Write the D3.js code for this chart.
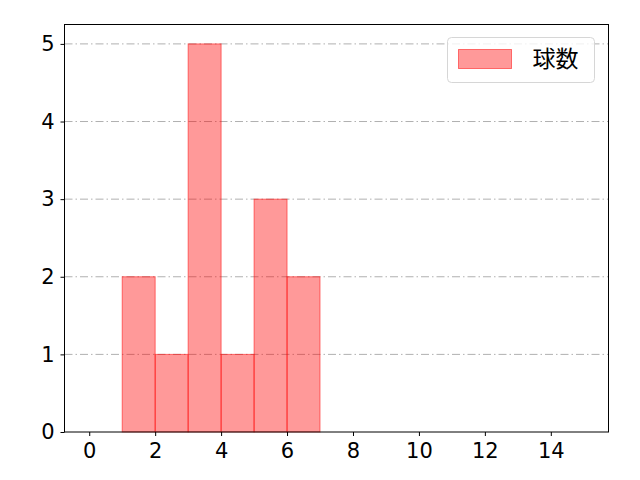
<!DOCTYPE html>
<html>
<head>
<meta charset="utf-8">
<script src="https://cdn.jsdelivr.net/npm/d3@7"></script>
<style>
  body { margin: 0; background: #fff; }
  svg text { font-family: "Noto Sans CJK JP", "DejaVu Sans", sans-serif; }
</style>
</head>
<body>
<div id="chart"></div>
<script>
// histogram bins (left edge) and counts
const binStarts = [1, 2, 3, 4, 5, 6];
const binCounts = [2, 1, 5, 1, 3, 2];
const binWidth = 1;
const xTicks = [0, 2, 4, 6, 8, 10, 12, 14];
const yTicks = [0, 1, 2, 3, 4, 5];
const seriesName = '球数';

const W = 640, H = 480;
const margin = { top: 24.5, right: 31.5, bottom: 48, left: 64.5 };
const width = W - margin.left - margin.right;
const height = H - margin.top - margin.bottom;

const svg = d3.select('#chart').append('svg')
    .attr('width', W)
    .attr('height', H);

const g = svg.append('g')
    .attr('transform', `translate(${margin.left}, ${margin.top})`);

const x = d3.scaleLinear().domain([-0.75, 15.75]).range([0, width]);
const y = d3.scaleLinear().domain([0, 5.25]).range([height, 0]);

// grid lines (horizontal only)
g.append('g')
    .selectAll('line')
    .data(yTicks.filter(d => d > 0))
    .enter()
    .append('line')
    .attr('x1', 0)
    .attr('x2', width)
    .attr('y1', d => y(d))
    .attr('y2', d => y(d))
    .attr('stroke', '#b0b0b0')
    .attr('stroke-width', 1)
    .attr('stroke-dasharray', '8,3,1.5,3');

// bars
const bars = binStarts.map((s, i) => ({ x0: s, x1: s + binWidth, n: binCounts[i] }));
g.append('g')
    .selectAll('rect')
    .data(bars)
    .enter()
    .append('rect')
    .attr('x', d => x(d.x0))
    .attr('y', d => y(d.n))
    .attr('width', d => x(d.x1) - x(d.x0))
    .attr('height', d => y(0) - y(d.n))
    .attr('fill', 'rgba(255, 0, 0, 0.4)')
    .attr('stroke', 'rgba(255, 0, 0, 0.5)')
    .attr('stroke-width', 1);

// axes
const xAxis = g.append('g')
    .attr('transform', `translate(0, ${height})`)
    .call(d3.axisBottom(x).tickValues(xTicks).tickSize(4).tickPadding(7).tickFormat(d3.format('d')));

const yAxis = g.append('g')
    .call(d3.axisLeft(y).tickValues(yTicks).tickSize(4).tickPadding(6).tickFormat(d3.format('d')));

[xAxis, yAxis].forEach(ax => {
    ax.select('.domain').remove();
    ax.selectAll('text')
        .style('font-family', '"DejaVu Sans", sans-serif')
        .style('font-size', '21px')
        .attr('fill', '#000');
    ax.selectAll('line').attr('stroke', '#000').attr('stroke-width', 1);
});

// frame
g.append('rect')
    .attr('x', 0)
    .attr('y', 0)
    .attr('width', width)
    .attr('height', height)
    .attr('fill', 'none')
    .attr('stroke', '#000')
    .attr('stroke-width', 1);

// legend
const legend = svg.append('g')
    .attr('transform', 'translate(447.5, 37.5)');

legend.append('rect')
    .attr('width', 147)
    .attr('height', 45)
    .attr('rx', 4)
    .attr('fill', 'rgba(255,255,255,0.8)')
    .attr('stroke', '#d6d6d6');

legend.append('rect')
    .attr('x', 11)
    .attr('y', 12)
    .attr('width', 53)
    .attr('height', 19)
    .attr('fill', 'rgba(255, 0, 0, 0.4)')
    .attr('stroke', 'rgba(255, 0, 0, 0.5)');

legend.append('text')
    .attr('x', 85)
    .attr('y', 29.5)
    .attr('font-size', 23)
    .attr('fill', '#000')
    .text(seriesName);
</script>
</body>
</html>
